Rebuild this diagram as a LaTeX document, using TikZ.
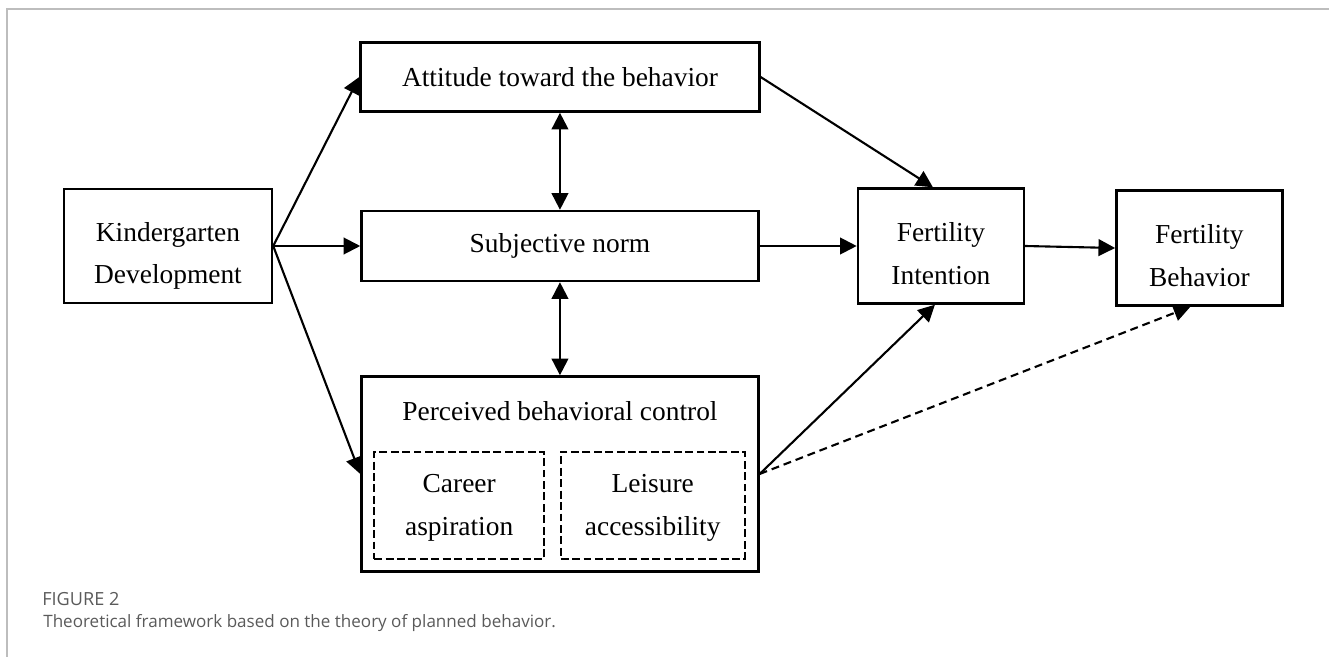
\documentclass[tikz,border=0pt]{standalone}
\usepackage{fontspec}
\setmainfont{Liberation Serif}
\newfontfamily\capfont{Open Sans}
\usepackage{tikz}
\usetikzlibrary{positioning,arrows.meta}
\definecolor{framegray}{HTML}{BDBDBD}
\definecolor{capgray}{HTML}{5A5A5A}
\newcommand{\lowstrut}[1]{\rule{0pt}{#1}}

\begin{document}
\begin{tikzpicture}[>={Triangle[length=9.5pt,width=9.5pt]},
  block/.style={draw,rectangle,line width=1.4pt,align=center,inner sep=0pt,
    font=\fontsize{15.6}{24.5}\selectfont},
  subblock/.style={draw,rectangle,line width=1.1pt,dash pattern=on 4.5pt off 2pt,
    align=center,inner sep=0pt,minimum height=2.14cm,font=\fontsize{15.6}{24.5}\selectfont},
  link/.style={->,line width=1.2pt}]
\useasboundingbox (0,0) rectangle (26.58,-13.14);
% frame
\draw[framegray,line width=0.8pt] (0.14,-13.14) -- (0.14,-0.18) -- (26.58,-0.18);
% nodes
\node[block,minimum width=4.16cm,minimum height=2.28cm] (kg) at (3.36,-4.92) {\lowstrut{0.78cm}Kindergarten\\[-1pt]Development};
\node[block,minimum width=7.94cm,minimum height=1.40cm,right=1.74cm of kg] (sn) {Subjective norm};
\node[block,minimum width=7.98cm,minimum height=1.38cm,above=1.94cm of sn] (att) {Attitude toward the behavior};
\node[block,minimum width=7.94cm,text height=0.88cm,text depth=3.02cm,below=1.86cm of sn] (pbc) {Perceived behavioral control};
\node[subblock,minimum width=3.40cm,above right=0.26cm and 0.26cm of pbc.south west] (career) {\lowstrut{0.46cm}Career\\aspiration};
\node[subblock,minimum width=3.68cm,above left=0.26cm and 0.28cm of pbc.south east] (leisure) {\lowstrut{0.46cm}Leisure\\accessibility};
\node[block,minimum width=3.32cm,minimum height=2.30cm,right=1.94cm of sn] (fi) {\lowstrut{0.70cm}Fertility\\Intention};
\node[block,minimum width=3.32cm,minimum height=2.30cm,right=1.80cm of fi,yshift=-0.04cm] (fb) {\lowstrut{0.70cm}Fertility\\Behavior};
% connectors
\draw[link] (kg.east) -- (att.west);
\draw[link] (kg.east) -- (sn.west);
\draw[link] (kg.east) -- (pbc.west);
\draw[link,<->] (att) -- (sn);
\draw[link,<->] (sn) -- (pbc);
\draw[link] (att.east) -- ([xshift=-0.16cm]fi.north);
\draw[link] (sn.east) -- (fi.west);
\draw[link] (fi.east) -- (fb.west);
\draw[link] (pbc.east) -- ([xshift=-0.12cm]fi.south);
\draw[link,dash pattern=on 4.5pt off 2.8pt] (pbc.east) -- ([xshift=-0.18cm]fb.south);
% caption
\node[anchor=base west,inner sep=0pt,text=capgray,font=\capfont\fontsize{10.3}{12}\selectfont] (fig) at (0.84,-12.10) {FIGURE 2};
\node[anchor=base west,inner sep=0pt,text=capgray,font=\capfont\fontsize{9.7}{12}\selectfont] (cap) at (0.86,-12.54) {Theoretical framework based on the theory of planned behavior.};
\end{tikzpicture}
\end{document}
